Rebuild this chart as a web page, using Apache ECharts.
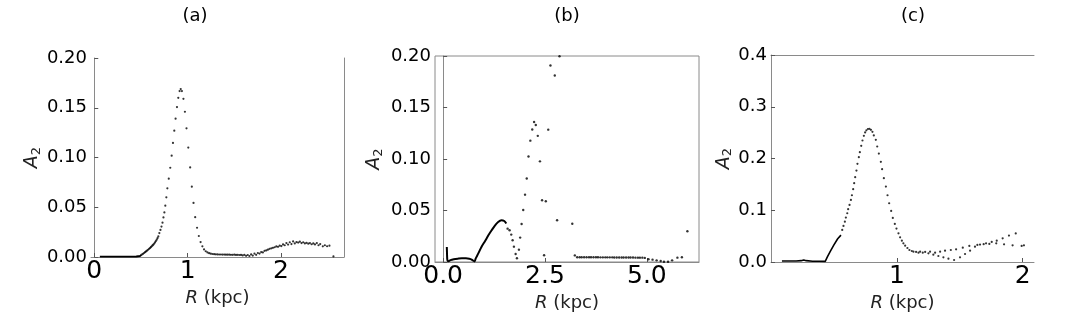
<!DOCTYPE html>
<html>
<head>
<meta charset="utf-8">
<script src="https://cdn.jsdelivr.net/npm/echarts@6/dist/echarts.min.js"></script>
<style>html,body{margin:0;padding:0;background:#fff;}#c{width:1066px;height:318px;}</style>
</head>
<body>
<div id="c"></div>
<script>
// ---------- data ----------
const panelTitles = ['(a)', '(b)', '(c)'];
const xTicksA = [0, 1, 2];
const xTicksB = [0, 2.5, 5];
const xTicksC = [1, 2];

// panel (a)
const aLineX = [0.06, 0.15, 0.25, 0.35, 0.45, 0.49, 0.505];
const aLineY = [0.0004, 0.0004, 0.0004, 0.0004, 0.0005, 0.0010, 0.0020];
const aDotX = [0.508,0.521,0.533,0.544,0.554,0.565,0.576,0.587,0.597,0.606,0.615,0.624,0.632,0.642,0.651,0.660,0.669,0.678,0.686,0.697,0.709,0.720,0.731,0.741,0.751,0.761,0.772,0.783,0.798,0.814,0.829,0.843,0.857,0.871,0.886,0.900,0.914,0.926,0.939,0.955,0.971,0.988,1.007,1.027,1.045,1.063,1.081,1.101,1.120,1.139,1.158,1.176,1.194,1.212,1.230,1.248,1.266,1.284,1.302,1.320,1.338,1.356,1.374,1.392,1.410,1.428,1.446,1.464,1.482,1.500,1.518,1.536,1.554,1.572,1.590,1.608,1.626,1.644,1.662,1.680,1.698,1.716,1.734,1.752,1.770,1.788,1.806,1.824,1.842,1.860,1.878,1.896,1.914,1.932,1.950,1.968,1.986,2.004,2.022,2.040,2.058,2.076,2.094,2.112,2.130,2.148,2.166,2.184,2.202,2.220,2.238,2.256,2.274,2.292,2.310,2.328,2.346,2.364,2.384,2.402,2.420,2.448,2.470,2.494,2.519,2.562];
const aDotY = [0.0023,0.0031,0.0040,0.0048,0.0056,0.0064,0.0073,0.0082,0.0090,0.0099,0.0107,0.0116,0.0124,0.0135,0.0147,0.0160,0.0174,0.0190,0.0207,0.0240,0.0272,0.0306,0.0345,0.0398,0.0448,0.0516,0.0600,0.0690,0.0787,0.0897,0.1018,0.1146,0.1270,0.1390,0.1507,0.1600,0.1668,0.1688,0.1668,0.1590,0.1460,0.1293,0.1100,0.0900,0.0707,0.0543,0.0400,0.0294,0.0211,0.0150,0.0107,0.0076,0.0058,0.0046,0.0038,0.0033,0.0030,0.0028,0.0027,0.0026,0.0025,0.0025,0.0024,0.0024,0.0023,0.0023,0.0023,0.0022,0.0022,0.0023,0.0021,0.0022,0.0020,0.0021,0.0016,0.0022,0.0012,0.0020,0.0010,0.0026,0.0014,0.0034,0.0022,0.0040,0.0034,0.0050,0.0046,0.0062,0.0066,0.0074,0.0082,0.0087,0.0092,0.0098,0.0106,0.0102,0.0114,0.0110,0.0126,0.0118,0.0140,0.0125,0.0148,0.0130,0.0157,0.0136,0.0150,0.0145,0.0154,0.0140,0.0148,0.0136,0.0142,0.0134,0.0140,0.0128,0.0136,0.0126,0.0140,0.0118,0.0130,0.0107,0.0118,0.0108,0.0114,0.0006];

// panel (b)
const bLineX = [0.09,0.095,0.10,0.11,0.13,0.18,0.26,0.36,0.46,0.56,0.64,0.70,0.74,0.77,0.80,0.86,0.94,1.03,1.11,1.19,1.27,1.35,1.43,1.50,1.55];
const bLineY = [0.0146,0.0080,0.0030,0.0008,0.0008,0.0018,0.0026,0.0032,0.0036,0.0036,0.0032,0.0024,0.0012,0.0006,0.0035,0.0081,0.0146,0.0204,0.0259,0.0308,0.0353,0.0388,0.0405,0.0398,0.0373];
const bDotX = [1.582,1.631,1.671,1.705,1.737,1.779,1.811,1.860,1.890,1.926,1.966,2.010,2.052,2.095,2.140,2.187,2.232,2.274,2.323,2.376,2.428,2.478,2.520,2.580,2.634,2.740,2.797,2.856,3.170,3.232,3.29,3.35,3.40,3.46,3.52,3.58,3.63,3.69,3.75,3.80,3.86,3.92,3.98,4.03,4.09,4.15,4.20,4.26,4.32,4.38,4.43,4.49,4.55,4.60,4.66,4.72,4.78,4.83,4.89,4.95,5.04,5.14,5.24,5.34,5.42,5.52,5.62,5.75,5.86,5.995];
const bDotY = [0.0324,0.0308,0.0266,0.0211,0.0149,0.0078,0.0036,0.0120,0.0237,0.0369,0.0505,0.0654,0.0810,0.1024,0.1178,0.1287,0.1359,0.1330,0.1225,0.0977,0.0599,0.0065,0.0590,0.1285,0.1908,0.1810,0.0405,0.1998,0.0371,0.0064,0.0046,0.0046,0.0046,0.0046,0.0046,0.0046,0.0046,0.0046,0.0046,0.0046,0.0045,0.0045,0.0045,0.0045,0.0045,0.0045,0.0044,0.0044,0.0044,0.0044,0.0044,0.0043,0.0043,0.0043,0.0043,0.0042,0.0042,0.0042,0.0042,0.0040,0.0026,0.0023,0.0016,0.0010,0.0003,0.0003,0.0016,0.0042,0.0046,0.0298];

// panel (c)
const cLineX = [0.087,0.15,0.20,0.24,0.26,0.28,0.33,0.38,0.431,0.449,0.47,0.50,0.53,0.556];
const cLineY = [0.0020,0.0020,0.0020,0.0026,0.0040,0.0026,0.0015,0.0015,0.0013,0.0103,0.0200,0.0330,0.0450,0.0520];
const cDotX = [0.566,0.576,0.587,0.595,0.606,0.613,0.624,0.635,0.643,0.653,0.661,0.669,0.679,0.687,0.698,0.706,0.717,0.727,0.738,0.748,0.758,0.770,0.782,0.794,0.806,0.817,0.833,0.844,0.857,0.873,0.883,0.897,0.913,0.926,0.939,0.955,0.968,0.984,0.997,1.013,1.026,1.040,1.052,1.066,1.084,1.100,1.119,1.132,1.153,1.172,1.185,1.206,1.225,1.251,1.264,1.290,1.304,1.330,1.344,1.370,1.383,1.410,1.429,1.455,1.471,1.502,1.524,1.542,1.576,1.582,1.621,1.640,1.661,1.690,1.709,1.735,1.754,1.790,1.794,1.841,1.852,1.891,1.920,1.945,1.992,2.010];
const cDotY = [0.0619,0.0697,0.0780,0.0858,0.0942,0.1020,0.1103,0.1200,0.1290,0.1407,0.1523,0.1639,0.1767,0.1897,0.2026,0.2123,0.2245,0.2348,0.2439,0.2503,0.2545,0.2570,0.2574,0.2555,0.2516,0.2445,0.2361,0.2232,0.2096,0.1935,0.1794,0.1620,0.1458,0.1290,0.1135,0.0987,0.0852,0.0735,0.0645,0.0555,0.0477,0.0413,0.0361,0.0316,0.0271,0.0232,0.0213,0.0200,0.0194,0.0180,0.0200,0.0180,0.0194,0.0168,0.0200,0.0142,0.0180,0.0116,0.0200,0.0090,0.0219,0.0065,0.0232,0.0039,0.0245,0.0090,0.0277,0.0155,0.0310,0.0219,0.0297,0.0330,0.0336,0.0345,0.0361,0.0350,0.0387,0.0360,0.0413,0.0458,0.0342,0.0510,0.0323,0.0552,0.0310,0.0323];

// ---------- chart ----------
const zip = (xs, ys) => xs.map((x, i) => [x, ys[i]]);
const FONT = 'DejaVu Sans';
const SPINE = '#8a8a8a';

function xAxisCfg(grid, min, max, ticks, fmt) {
  return {
    type: 'value', gridIndex: grid, min: min, max: max,
    axisLine: { show: true, onZero: false, lineStyle: { color: SPINE, width: 1 } },
    axisTick: { show: true, inside: true, length: 4, customValues: ticks, lineStyle: { color: '#555' } },
    axisLabel: { show: true, customValues: ticks, margin: 2, fontFamily: FONT, fontSize: 25, color: '#000', formatter: fmt },
    splitLine: { show: false },
    name: '{i|R} (kpc)', nameLocation: 'middle', nameGap: 29,
    nameTextStyle: { fontFamily: FONT, fontSize: 18, color: '#222', rich: { i: { fontFamily: FONT, fontSize: 18, fontStyle: 'italic', color: '#222' } } }
  };
}
function yAxisCfg(grid, max, interval, digits, gap) {
  return {
    type: 'value', gridIndex: grid, min: 0, max: max, interval: interval,
    axisLine: { show: true, lineStyle: { color: SPINE, width: 1 } },
    axisTick: { show: true, inside: true, length: 4, lineStyle: { color: '#555' } },
    axisLabel: { margin: 4, fontFamily: FONT, fontSize: 18, color: '#000', formatter: v => v.toFixed(digits) },
    splitLine: { show: false },
    name: '{i|A}{s|2}', nameLocation: 'middle', nameRotate: 90, nameGap: gap,
    nameTextStyle: { fontFamily: FONT, fontSize: 18, color: '#222',
      rich: { i: { fontFamily: FONT, fontSize: 19, fontStyle: 'italic', color: '#222' },
              s: { fontFamily: FONT, fontSize: 13, color: '#222', padding: [8, 0, 0, 0] } } }
  };
}

const dotStyle = { color: '#000' };
const chart = echarts.init(document.getElementById('c'), null, { renderer: 'canvas' });
chart.setOption({
  animation: false,
  backgroundColor: '#fff',
  grid: [
    { left: 91, top: 58, width: 253, height: 199 },
    { left: 435, top: 56, width: 264, height: 206, show: true, borderColor: SPINE, borderWidth: 1 },
    { left: 771, top: 55, width: 263, height: 207 }
  ],
  xAxis: [
    xAxisCfg(0, -0.035, 2.675, xTicksA, v => String(v)),
    xAxisCfg(1, -0.2, 6.28, xTicksB, v => v.toFixed(1)),
    xAxisCfg(2, 0, 2.09, xTicksC, v => String(v)),
    { type: 'value', gridIndex: 2, position: 'top', min: 0, max: 2.09,
      axisLine: { show: true, onZero: false, lineStyle: { color: SPINE } },
      axisTick: { show: false }, axisLabel: { show: false }, splitLine: { show: false } }
  ],
  yAxis: [
    yAxisCfg(0, 0.2, 0.05, 2, 46),
    yAxisCfg(1, 0.2, 0.05, 2, 50),
    yAxisCfg(2, 0.4, 0.1, 1, 36),
    { type: 'value', gridIndex: 0, position: 'right', min: 0, max: 0.2,
      axisLine: { show: true, lineStyle: { color: SPINE } },
      axisTick: { show: false }, axisLabel: { show: false }, splitLine: { show: false } }
  ],
  graphic: [
    { type: 'text', x: 195, y: 16, style: { text: panelTitles[0], font: '18px "DejaVu Sans"', fill: '#000', textAlign: 'center', textVerticalAlign: 'middle' } },
    { type: 'text', x: 567, y: 16, style: { text: panelTitles[1], font: '18px "DejaVu Sans"', fill: '#000', textAlign: 'center', textVerticalAlign: 'middle' } },
    { type: 'text', x: 913, y: 16, style: { text: panelTitles[2], font: '18px "DejaVu Sans"', fill: '#000', textAlign: 'center', textVerticalAlign: 'middle' } }
  ],
  series: [
    { type: 'line', xAxisIndex: 0, yAxisIndex: 0, data: zip(aLineX, aLineY), showSymbol: false, symbol: 'none', lineStyle: { color: '#000', width: 1.8 }, clip: true },
    { type: 'scatter', xAxisIndex: 0, yAxisIndex: 0, data: zip(aDotX, aDotY), symbol: 'circle', symbolSize: 2.2, itemStyle: dotStyle },
    { type: 'line', xAxisIndex: 1, yAxisIndex: 1, data: zip(bLineX, bLineY), smooth: 0.3, showSymbol: false, symbol: 'none', lineStyle: { color: '#000', width: 2 } },
    { type: 'scatter', xAxisIndex: 1, yAxisIndex: 1, data: zip(bDotX, bDotY), symbol: 'circle', symbolSize: 2.4, itemStyle: dotStyle },
    { type: 'line', xAxisIndex: 2, yAxisIndex: 2, data: zip(cLineX, cLineY), showSymbol: false, symbol: 'none', lineStyle: { color: '#000', width: 1.6 } },
    { type: 'scatter', xAxisIndex: 2, yAxisIndex: 2, data: zip(cDotX, cDotY), symbol: 'circle', symbolSize: 2.2, itemStyle: dotStyle }
  ]
});
</script>
</body>
</html>
